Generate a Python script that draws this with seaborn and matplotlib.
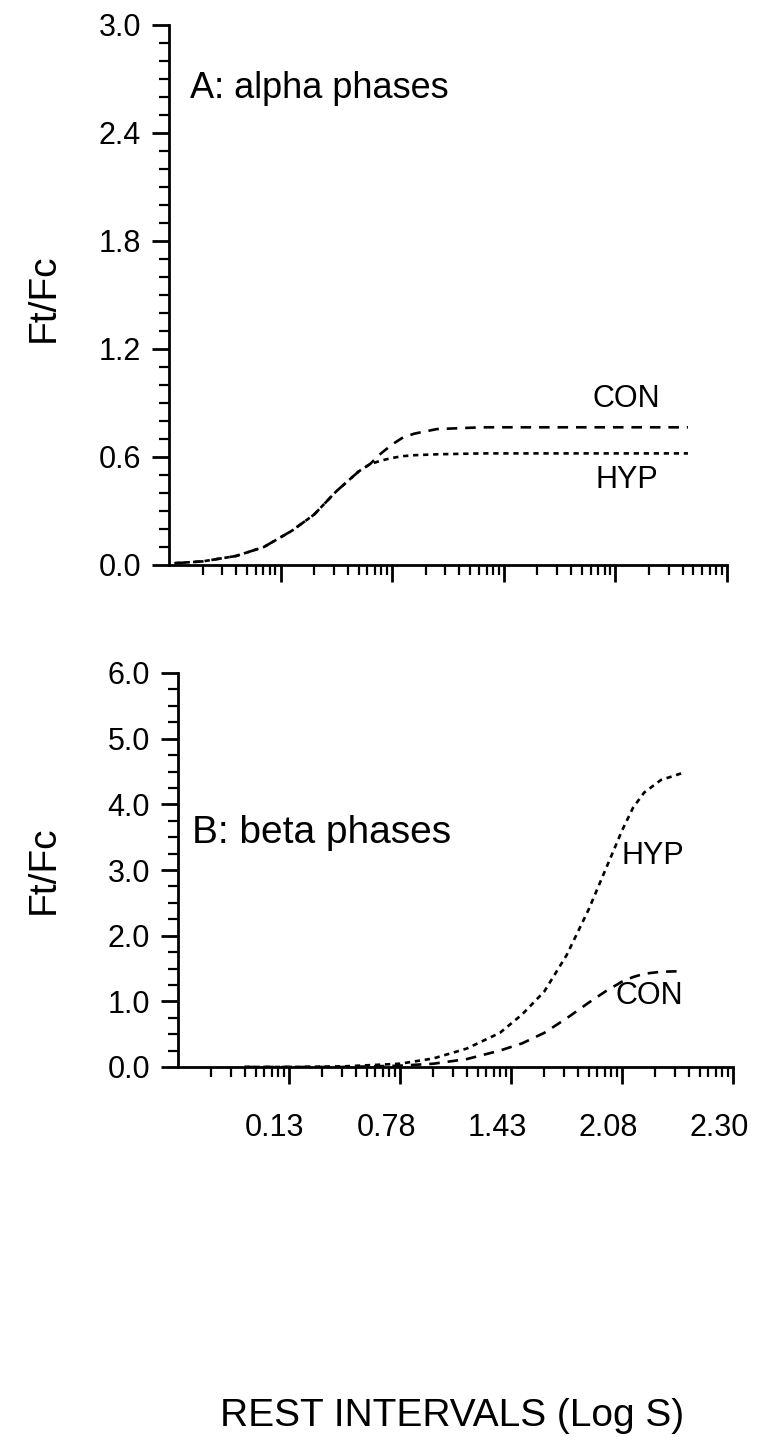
import numpy as np
import pandas as pd
import matplotlib
matplotlib.use("Agg")
import matplotlib.pyplot as plt
import seaborn as sns
from matplotlib.ticker import FixedLocator, LogLocator, MultipleLocator, NullFormatter, FixedFormatter
from matplotlib.transforms import ScaledTranslation

sns.set_theme(style="ticks")
plt.rcParams['font.family'] = ['Liberation Sans', 'DejaVu Sans']
plt.rcParams['text.color'] = 'black'
plt.rcParams['axes.labelcolor'] = 'black'

# ---- data (x = log10 rest interval, in decades along the axis) ----
a_log_rest = [0.05, 0.3, 0.6, 0.85, 1.1, 1.3, 1.5, 1.7, 1.8, 1.9, 2.0, 2.1, 2.2, 2.4, 2.8, 3.5, 4.65]
a_con = [0.01, 0.02, 0.05, 0.10, 0.19, 0.28, 0.41, 0.52, 0.56, 0.62, 0.67, 0.71, 0.73, 0.755, 0.765, 0.765, 0.765]
a_hyp = [0.01, 0.02, 0.05, 0.10, 0.19, 0.28, 0.41, 0.52, 0.56, 0.58, 0.595, 0.605, 0.61, 0.615, 0.62, 0.62, 0.62]

b_log_rest = [0.6, 1.0, 1.5, 2.0, 2.3, 2.6, 2.9, 3.1, 3.3, 3.5, 3.7, 3.85, 4.0, 4.1, 4.2, 4.35, 4.55]
b_hyp = [0.0, 0.0, 0.01, 0.05, 0.13, 0.28, 0.52, 0.8, 1.15, 1.7, 2.4, 3.0, 3.6, 3.95, 4.18, 4.37, 4.48]
b_con = [0.0, 0.0, 0.0, 0.02, 0.05, 0.12, 0.25, 0.36, 0.52, 0.74, 0.98, 1.15, 1.3, 1.37, 1.42, 1.45, 1.46]

x_tick_labels = ["0.13", "0.78", "1.43", "2.08", "2.30"]
a_yticks = [0.0, 0.6, 1.2, 1.8, 2.4, 3.0]
b_yticks = [0.0, 1.0, 2.0, 3.0, 4.0, 5.0, 6.0]

dfa = pd.DataFrame({"rest": 10 ** np.array(a_log_rest), "CON": a_con, "HYP": a_hyp})
dfb = pd.DataFrame({"rest": 10 ** np.array(b_log_rest), "CON": b_con, "HYP": b_hyp})

W, H = 775, 1454
fig = plt.figure(figsize=(W / 100, H / 100), dpi=100)
axA = fig.add_axes([169 / W, 1 - 565 / H, (727 - 169) / W, (565 - 25) / H])
axB = fig.add_axes([178 / W, 1 - 1067 / H, (733 - 178) / W, (1067 - 673) / H])

con_dash = (0, (4.0, 3.0))
hyp_dash = (0, (2.0, 1.8))
lw = 1.9

for ax, df in ((axA, dfa), (axB, dfb)):
    sns.lineplot(data=df, x="rest", y="CON", ax=ax, color="black", lw=lw,
                 linestyle=con_dash, estimator=None, sort=True)
    sns.lineplot(data=df, x="rest", y="HYP", ax=ax, color="black", lw=lw,
                 linestyle=hyp_dash, estimator=None, sort=True)
    ax.set_xscale("log")
    ax.set_xlim(1, 1e5)
    ax.xaxis.set_major_locator(FixedLocator([1e1, 1e2, 1e3, 1e4, 1e5]))
    ax.xaxis.set_minor_locator(LogLocator(base=10, subs=np.arange(2, 10)))
    ax.xaxis.set_minor_formatter(NullFormatter())
    ax.set_xlabel("")
    ax.set_ylabel("Ft/Fc", fontsize=28)
    for s in ("top", "right"):
        ax.spines[s].set_visible(False)
    for s in ("left", "bottom"):
        ax.spines[s].set_linewidth(2)
        ax.spines[s].set_color("black")
    ax.tick_params(axis="both", which="major", direction="out", length=12, width=2,
                   color="black", labelsize=22, pad=8, labelcolor="black")
    ax.tick_params(axis="both", which="minor", direction="out", length=7, width=1.6,
                   color="black")
    ax.set_facecolor("white")

axA.set_ylim(0, 3.0)
axA.yaxis.set_major_locator(FixedLocator(a_yticks))
axA.yaxis.set_major_formatter(FixedFormatter([f"{v:.1f}" for v in a_yticks]))
axA.yaxis.set_minor_locator(MultipleLocator(0.1))
axA.xaxis.set_major_formatter(NullFormatter())
axA.yaxis.set_label_coords(-0.192, 0.494)

axB.set_ylim(0, 6.0)
axB.yaxis.set_major_locator(FixedLocator(b_yticks))
axB.yaxis.set_major_formatter(FixedFormatter([f"{v:.1f}" for v in b_yticks]))
axB.yaxis.set_minor_locator(MultipleLocator(0.25))
axB.xaxis.set_major_formatter(FixedFormatter(x_tick_labels))
axB.tick_params(axis="x", which="major", pad=21)
axB.yaxis.set_label_coords(-0.209, 0.5)
axB.set_xlabel("REST INTERVALS (Log S)", fontsize=28)
axB.xaxis.set_label_coords(0.494, -0.84)
for lab in axB.get_xticklabels():
    lab.set_transform(lab.get_transform() + ScaledTranslation(-0.14, 0, fig.dpi_scale_trans))

axA.text(0.038, 0.883, "A: alpha phases", transform=axA.transAxes, fontsize=26, ha="left", va="center")
axA.text(10 ** 4.1, 0.92, "CON", fontsize=22, ha="center", va="center")
axA.text(10 ** 4.1, 0.47, "HYP", fontsize=22, ha="center", va="center")

axB.text(0.025, 0.594, "B: beta phases", transform=axB.transAxes, fontsize=28, ha="left", va="center")
axB.text(0.855, 0.535, "HYP", transform=axB.transAxes, fontsize=22, ha="center", va="center")
axB.text(0.85, 0.18, "CON", transform=axB.transAxes, fontsize=22, ha="center", va="center")

fig.savefig("out.png", dpi=100, facecolor="white")
